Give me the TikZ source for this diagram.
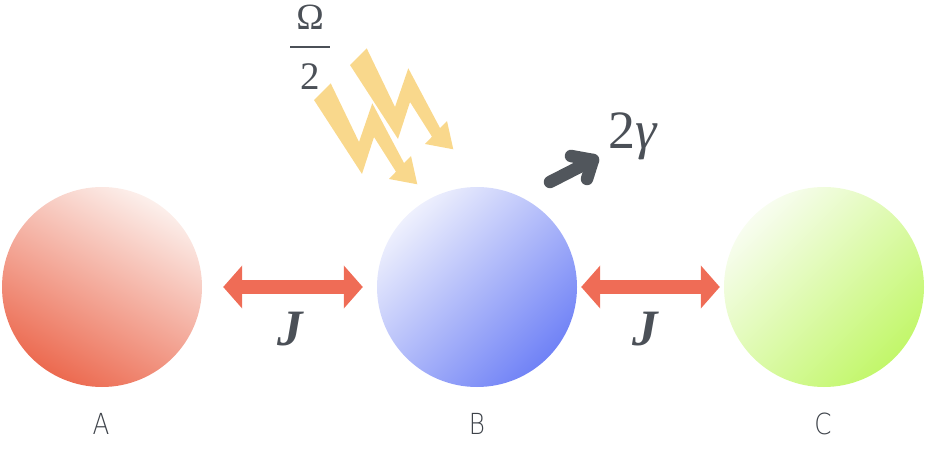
\documentclass[tikz,border=0pt]{standalone}
\usepackage{fontspec}
\setmainfont{Liberation Serif}
\newfontfamily\labfont{DejaVu Sans ExtraLight}
\usetikzlibrary{arrows.meta}
\definecolor{txt}{HTML}{4B5057}
\definecolor{labc}{HTML}{3E434A}
\definecolor{jred}{HTML}{EF6C56}
\definecolor{bolt}{HTML}{F9D88C}
\definecolor{gam}{HTML}{51565C}
\definecolor{ALight}{HTML}{FCEFEB}
\definecolor{ADark}{HTML}{EC6A50}
\definecolor{BLight}{HTML}{EEF0FD}
\definecolor{BDark}{HTML}{7082F6}
\definecolor{CLight}{HTML}{F8FDF0}
\definecolor{CDark}{HTML}{C2F76A}
\newcommand{\boltshape}{(350,385) -- (366.7,401.7) -- (395,343) -- (408.3,381.7) -- (440,322) -- (447,329) -- (453.3,300.7) -- (425,306) -- (432,313.3) -- (410,348) -- (398,311) -- cycle}
\begin{document}
\begin{tikzpicture}[x=1pt,y=1pt,
  ball/.style={circle, inner sep=0pt, minimum size=200pt, shading=axis},
  jarrow/.style={draw=jred, line width=14pt,
    {Triangle[length=19pt,width=42pt]}-{Triangle[length=19pt,width=42pt]}},
  jlab/.style={text=txt, font=\fontsize{51}{55}\selectfont\bfseries\itshape, inner sep=0pt},
  lab/.style={text=labc, font=\labfont\fontsize{29}{32}\selectfont, inner sep=0pt},
  boltfill/.style={fill=bolt, line join=miter},
  gline/.style={draw=gam, line width=12.5pt, line cap=round, line join=round},
  mathtxt/.style={text=txt, inner sep=0pt}
]
\useasboundingbox (0,0) rectangle (926,450);
% balls
\node[ball, top color=ALight, bottom color=ADark, shading angle=-30] (A) at (102,163) {};
\node[ball, top color=BLight, bottom color=BDark, shading angle=45] (B) at (477,163) {};
\node[ball, top color=CLight, bottom color=CDark, shading angle=45] (C) at (824,163) {};
% couplings
\draw[jarrow] ([xshift=21pt]A.east) -- ([xshift=-14pt]B.west);
\draw[jarrow] ([xshift=4pt]B.east) -- ([xshift=-4pt]C.west);
\node[jlab] (J1) at (290,121) {J};
\node[jlab] (J2) at (645,121) {J};
% labels
\node[lab] (LA) at (101,26) {\scalebox{0.85}[1]{A}};
\node[lab] (LB) at (477,26) {\scalebox{0.85}[1]{B}};
\node[lab] (LC) at (823,26) {\scalebox{0.85}[1]{C}};
% drive bolts
\fill[boltfill] \boltshape;
\fill[boltfill, shift={(-36,-35)}] \boltshape;
% Omega/2
\node[mathtxt, font=\fontsize{37}{40}\selectfont] (Om) at (310,433) {Ω};
\node[mathtxt, font=\fontsize{39}{42}\selectfont] (Two) at (310,373) {2};
\coordinate (barL) at (290,403);
\coordinate (barR) at (330,403);
\draw[draw=txt, line width=2.8pt] (barL) -- (barR);
% decay
\coordinate (g0) at (550,268);
\coordinate (g1) at (593,290);
\coordinate (gu) at (571,294);
\coordinate (gd) at (587,271);
\draw[gline] (g0) -- (g1);
\draw[gline] (gu) -- (g1) -- (gd);
\node[mathtxt, font=\fontsize{54}{58}\selectfont] (gam) at (633,314) {2\textit{γ}};
\end{tikzpicture}
\end{document}
